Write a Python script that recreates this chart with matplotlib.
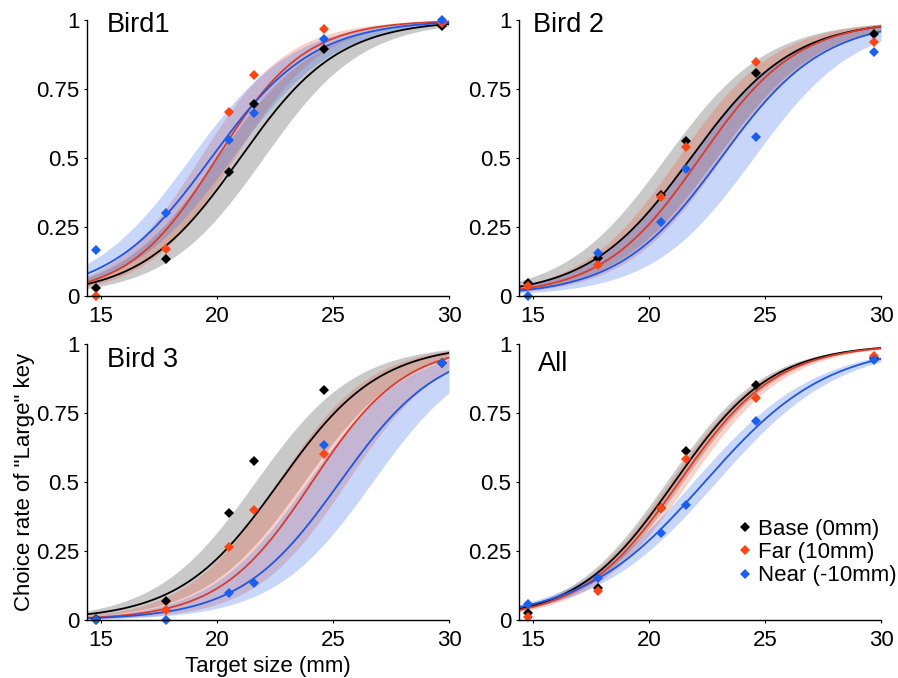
import numpy as np
import matplotlib
matplotlib.use("Agg")
import matplotlib.pyplot as plt
from matplotlib.lines import Line2D

plt.rcParams["font.family"] = ["Liberation Sans", "DejaVu Sans"]

# target sizes (mm)
sizes = [14.8, 17.8, 20.5, 21.6, 24.6, 29.7]

# observed choice rates of "Large" key
bird1_base = [0.03, 0.135, 0.45, 0.695, 0.895, 0.978]
bird1_far = [0.0, 0.17, 0.667, 0.80, 0.967, 0.99]
bird1_near = [0.167, 0.30, 0.565, 0.664, 0.932, 1.0]

bird2_base = [0.048, 0.136, 0.366, 0.563, 0.809, 0.948]
bird2_far = [0.036, 0.112, 0.36, 0.541, 0.847, 0.921]
bird2_near = [0.0, 0.155, 0.269, 0.459, 0.577, 0.883]

bird3_base = [0.005, 0.069, 0.386, 0.575, 0.833, 0.93]
bird3_far = [0.0, 0.036, 0.266, 0.40, 0.60, 0.93]
bird3_near = [0.0, 0.0, 0.099, 0.133, 0.634, 0.93]

all_base = [0.027, 0.115, 0.405, 0.612, 0.85, 0.95]
all_far = [0.012, 0.106, 0.405, 0.582, 0.803, 0.958]
all_near = [0.058, 0.153, 0.314, 0.417, 0.722, 0.942]

# logistic fits: (threshold, scale, CI half-width of threshold)
bird1_fit = {"base": (21.0, 2.13, 1.0), "far": (20.0, 1.9, 0.75), "near": (19.75, 2.2, 0.9)}
bird2_fit = {"base": (21.8, 2.2, 1.1), "far": (22.2, 2.1, 0.95), "near": (23.1, 2.2, 1.4)}
bird3_fit = {"base": (22.7, 2.15, 1.05), "far": (24.1, 2.0, 1.5), "near": (25.3, 2.15, 1.4)}
all_fit = {"base": (21.1, 2.1, 0.35), "far": (21.3, 2.1, 0.4), "near": (22.4, 2.65, 0.5)}

panels = [
    ("Bird1", bird1_base, bird1_far, bird1_near, bird1_fit),
    ("Bird 2", bird2_base, bird2_far, bird2_near, bird2_fit),
    ("Bird 3", bird3_base, bird3_far, bird3_near, bird3_fit),
    ("All", all_base, all_far, all_near, all_fit),
]

line_col = {"base": "#000000", "far": "#D83C2C", "near": "#1F55E0"}
mark_col = {"base": "#000000", "far": "#FF4516", "near": "#1A60F0"}
band_col = {"base": ("#7A7A7A", 0.4), "far": ("#F05A3A", 0.28), "near": ("#3A6EEE", 0.28)}
labels = {"base": "Base (0mm)", "far": "Far (10mm)", "near": "Near (-10mm)"}


def logistic(x, mu, s):
    return 1.0 / (1.0 + np.exp(-(x - mu) / s))


fig = plt.figure(figsize=(8.98, 6.78), dpi=100)
W, H = 898, 678
boxes = [(87, 20), (519, 20), (87, 344), (519, 344)]
aw, ah = 362, 276

xx = np.linspace(14.4, 30, 300)
for (px, py), (title, base, far, near, fit) in zip(boxes, panels):
    ax = fig.add_axes([px / W, 1 - (py + ah) / H, aw / W, ah / H])
    obs = {"base": base, "far": far, "near": near}

    for k in ["base", "far", "near"]:
        mu, s, d = fit[k]
        c, a = band_col[k]
        ax.fill_between(xx, logistic(xx, mu + d, s), logistic(xx, mu - d, s),
                        color=c, alpha=a, lw=0)
    for k in ["base", "far", "near"]:
        mu, s, d = fit[k]
        ax.plot(xx, logistic(xx, mu, s), color=line_col[k], lw=1.3)
    for k in ["base", "far", "near"]:
        ax.plot(sizes, obs[k], "D", color=mark_col[k], ms=5.5, mew=0, clip_on=False)

    ax.set_xlim(14.4, 30)
    ax.set_ylim(0, 1)
    ax.set_xticks([15, 20, 25, 30])
    ax.set_yticks([0, 0.25, 0.5, 0.75, 1])
    ax.set_yticklabels(["0", "0.25", "0.5", "0.75", "1"])
    ax.tick_params(length=2.5, width=0.8, labelsize=16)
    ax.tick_params(axis="x", pad=5)
    ax.tick_params(axis="y", pad=3)
    for sp in ["top", "right"]:
        ax.spines[sp].set_visible(False)
    for sp in ["left", "bottom"]:
        ax.spines[sp].set_linewidth(1.0)

    ty = 1.03 if title in ("Bird1", "Bird 2") else 0.99 if title == "Bird 3" else 0.975
    tx = 0.039 if title == "Bird 2" else 0.052 if title == "All" else 0.055
    ax.text(tx, ty, title, transform=ax.transAxes, fontsize=19.5, va="top", ha="left")

    if title == "Bird 3":
        ax.set_ylabel('Choice rate of "Large" key', fontsize=16)
        ax.yaxis.set_label_coords(-0.145, 0.5)
        ax.set_xlabel("Target size (mm)", fontsize=16, labelpad=3)

    if title == "All":
        handles = [Line2D([], [], ls="none", marker="D", ms=5.5, mew=0, color=mark_col[k])
                   for k in ["base", "far", "near"]]
        ax.legend(handles, [labels[k] for k in ["base", "far", "near"]],
                  loc="upper left", bbox_to_anchor=(738 / W, 1 - 519 / H),
                  bbox_transform=fig.transFigure, frameon=False, fontsize=16,
                  handlelength=0.6, handletextpad=0.3, labelspacing=0.1,
                  borderpad=0, borderaxespad=0)

fig.savefig("out.png", dpi=100)
